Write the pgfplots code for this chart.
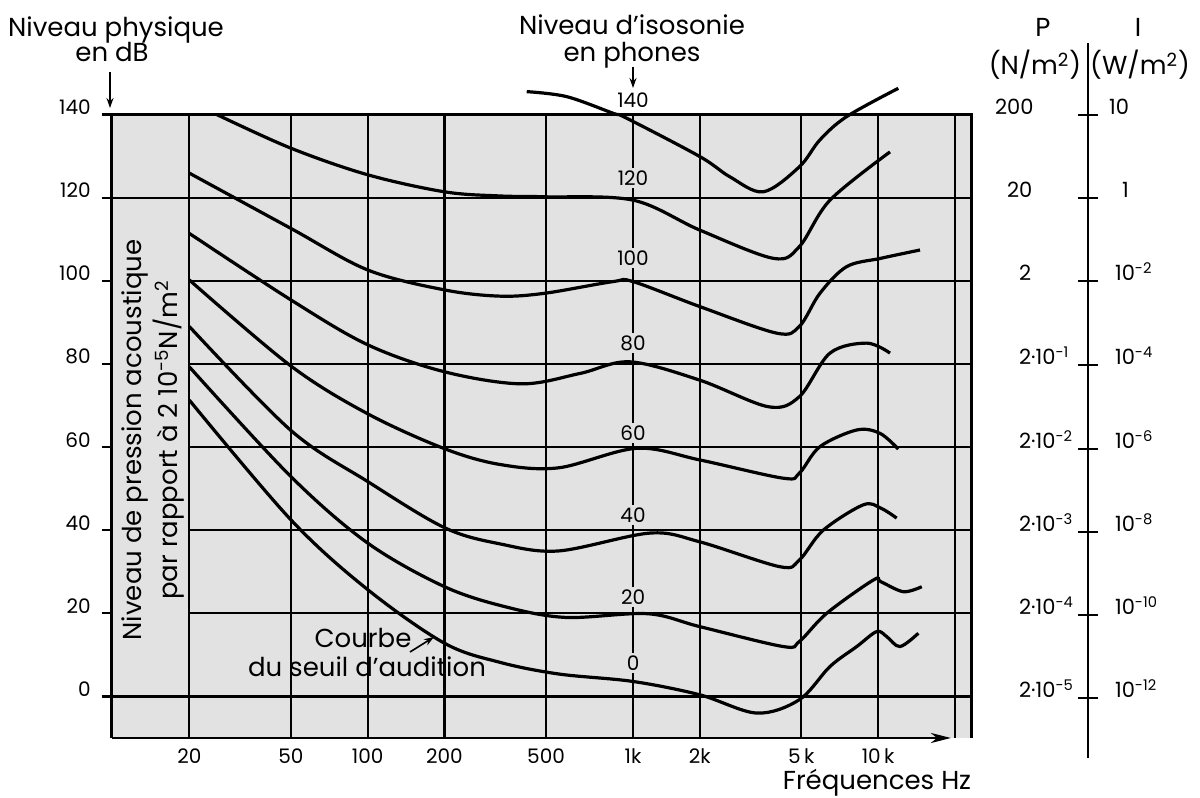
\documentclass[border=0pt]{standalone}
\usepackage{pgfplots}
\pgfplotsset{compat=1.18}
\usepackage{fontspec}
\setmainfont{Poppins}
\usetikzlibrary{arrows.meta}
\definecolor{bg}{RGB}{226,226,226}

\tikzset{
  gl/.style={line width=1.1pt, black},
  fr/.style={line width=1.3pt, black},
  clabel/.style={fill=bg, inner sep=1.2pt, font=\fontsize{10}{12}\selectfont},
  ttl/.style={font=\fontsize{13}{15}\selectfont},
  sc/.style={font=\fontsize{10.5}{12}\selectfont},
  arr/.style={line width=0.8pt, -{Stealth[length=5pt,width=3.5pt]}},
}
\pgfplotsset{curve/.style={line width=1.6pt, black, smooth, tension=0.55, mark=none}}

\begin{document}
\begin{tikzpicture}
\begin{axis}[
  at={(55.85pt,30pt)}, anchor=south west,
  scale only axis, width=430pt, height=311.75pt,
  xmode=log, xmin=9.93, xmax=23274, ymin=-10, ymax=140,
  clip=false,
  axis line style={draw=none},
  axis background/.style={fill=bg},
  xtick={20,50,100,200,500,1096,2000,5000,10000},
  xticklabels={20,50,100,200,500,1k,2k,5\,k,10\,k},
  xminorticks=false,
  xtick style={draw=none},
  xticklabel style={yshift=3pt},
  ytick={0,20,...,140},
  ytick pos=left,
  tick align=outside,
  major tick length=5pt,
  ytick style={line width=1.1pt, black},
  yticklabel style={anchor=base east, xshift=-2pt},
  tick label style={font=\fontsize{10}{12}\selectfont},
  /pgf/number format/assume math mode=true,
]
% grid
\draw[gl] (20,-10) -- (20,140);
\draw[gl] (50,-10) -- (50,140);
\draw[gl] (100,-10) -- (100,140);
\draw[gl] (200,-10) -- (200,140);
\draw[gl] (500,-10) -- (500,140);
\draw[gl] (1096,-10) -- (1096,140);
\draw[gl] (2000,-10) -- (2000,140);
\draw[gl] (5000,-10) -- (5000,140);
\draw[gl] (10000,-10) -- (10000,140);
\draw[gl] (20000,-10) -- (20000,140);
\draw[gl] (9.93,0) -- (23274,0);
\draw[gl] (9.93,120) -- (23274,120);
\draw[gl] (20,20) -- (23274,20);
\draw[gl] (20,40) -- (23274,40);
\draw[gl] (20,60) -- (23274,60);
\draw[gl] (20,80) -- (23274,80);
\draw[gl] (20,100) -- (23274,100);
% frame
\draw[fr] (9.93,-10) -- (9.93,140) -- (23274,140) -- (23274,-10);
\draw[fr,-{Stealth[length=10pt,width=5pt,inset=3pt]}] (9.93,-10) -- (19300,-10);

% 0 phone (seuil)
\addplot[curve] coordinates {
(20,71.3) (50,42.5) (100,25.7) (200,12.8) (330,8.2) (560,5.4)
(1096,3.6) (2000,0.4) (3344,-4.0) (4912,-0.8) (6480,7.2) (8250,12.0)
(9878,15.6) (10808,14.4) (12186,12.0) (14380,15.2)
};
% 20
\addplot[curve] coordinates {
(20,79.3) (50,52.9) (100,36.9) (200,26.4) (350,21.5) (600,19.0)
(1250,19.9) (2000,16.8) (4252,12.0) (4912,13.2) (6290,20.0) (9580,28.0)
(10244,27.6) (12556,25.2) (14830,26.4)
};
% 40
\addplot[curve] coordinates {
(20,89.0) (50,64.0) (100,51.7) (200,40.6) (330,36.7) (560,35.0)
(1278,39.3) (2000,37.2) (4128,31.2) (4912,32.8) (6100,40.0) (8754,46.1)
(10244,45.3) (11828,42.9)
};
% 60
\addplot[curve] coordinates {
(20,100.2) (50,79.5) (100,68.0) (200,59.6) (330,55.8) (560,55.0)
(1133,59.7) (2000,56.9) (4252,52.5) (4912,53.7) (5920,60.1) (8248,64.1)
(10170,63.3) (12000,59.5)
};
% 80
\addplot[curve] coordinates {
(20,111.4) (50,95.4) (100,84.6) (200,78.1) (400,75.2) (679,77.7)
(1067,80.5) (2000,76.1) (3714,69.7) (4912,72.1) (6480,82.6) (9026,85.0)
(11136,82.6)
};
% 100
\addplot[curve] coordinates {
(20,125.9) (50,112.6) (100,102.6) (200,97.8) (330,96.3) (495,97.0) (915,99.8)
(1096,99.8) (2000,93.8) (4006,87.4) (4912,89.0) (5920,97.0) (7534,103.4)
(10244,105.4) (14600,107.4)
};
% 120
\addplot[curve] coordinates {
(25.6,140) (50,131.9) (100,125.5) (200,121.4) (330,120.4) (495,120.2)
(1096,119.4) (2000,112.2) (3886,105.4) (4912,108.2) (6480,119.4) (11136,131.0)
};
% 140
\addplot[curve] coordinates {
(420,145.5) (602,144.3) (915,140.3) (1035,139.1) (2000,129.9) (2628,125.0)
(3550,121.4) (4912,127.4) (5920,133.9) (7534,139.5) (12000,146.3)
};

% phone labels on the 1 kHz line
\node[clabel, fill=white] at (1096,143.5) {140};
\node[clabel] at (1096,124.7) {120};
\node[clabel] at (1096,105.5) {100};
\node[clabel] at (1096,85.0) {80};
\node[clabel] at (1096,63.4) {60};
\node[clabel] at (1096,43.7) {40};
\node[clabel] at (1096,23.9) {20};
\node[clabel] at (1096,8.1) {0};
\end{axis}

% annotations, in pixel units of the reference
\begin{scope}[x=0.5pt, y=-0.5pt, yshift=399pt]
\node[ttl, anchor=base] at (116,37) {Niveau physique};
\node[ttl, anchor=base] at (112,62) {en dB};
\draw[arr] (110,72) -- (110,108);
\node[ttl, anchor=base] at (632,35) {Niveau d’isosonie};
\node[ttl, anchor=base] at (632,62) {en phones};
\draw[arr] (633,67) -- (633,88);
\node[ttl, anchor=base] at (877,790) {Fréquences Hz};
\node[rotate=90, align=center, font=\fontsize{13}{18}\selectfont] at (153,440)
  {Niveau de pression acoustique\\par rapport à 2 10\textsuperscript{-5}N/m\textsuperscript{2}};
\node[ttl, anchor=base] at (363,648) {Courbe};
\node[ttl, anchor=base] at (367,677) {du seuil d’audition};
\draw[arr] (410,652) -- (434,637);

% pressure / intensity scale
\node[ttl, anchor=base] at (1043,37) {P};
\node[ttl, anchor=base] at (1138,37) {$\mathrm{I}$};
\node[ttl, anchor=base] at (1035,75) {(N/m\textsuperscript{2})};
\node[ttl, anchor=base] at (1140,75) {(W/m\textsuperscript{2})};
\draw[line width=1pt] (1088,43) -- (1088,758);
\foreach \yy in {115,198,281,365,449,532,615,698}
  \draw[line width=1.1pt] (1078,\yy) -- (1098,\yy);
\node[sc, anchor=base west] at (988,115) {200};
\node[sc, anchor=base west] at (1000,198) {20};
\node[sc, anchor=base west] at (1012,281) {2};
\node[sc, anchor=base west] at (1012,365) {2·10\textsuperscript{-1}};
\node[sc, anchor=base west] at (1012,449) {2·10\textsuperscript{-2}};
\node[sc, anchor=base west] at (1012,532) {2·10\textsuperscript{-3}};
\node[sc, anchor=base west] at (1012,615) {2·10\textsuperscript{-4}};
\node[sc, anchor=base west] at (1012,698) {2·10\textsuperscript{-5}};
\node[sc, anchor=base west] at (1102,115) {10};
\node[sc, anchor=base west] at (1115,198) {1};
\node[sc, anchor=base west] at (1108,281) {10\textsuperscript{-2}};
\node[sc, anchor=base west] at (1108,365) {10\textsuperscript{-4}};
\node[sc, anchor=base west] at (1108,449) {10\textsuperscript{-6}};
\node[sc, anchor=base west] at (1108,532) {10\textsuperscript{-8}};
\node[sc, anchor=base west] at (1108,615) {10\textsuperscript{-10}};
\node[sc, anchor=base west] at (1108,698) {10\textsuperscript{-12}};
\end{scope}

\pgfresetboundingbox
\useasboundingbox (0,0) rectangle (600pt,399pt);
\end{tikzpicture}
\end{document}
